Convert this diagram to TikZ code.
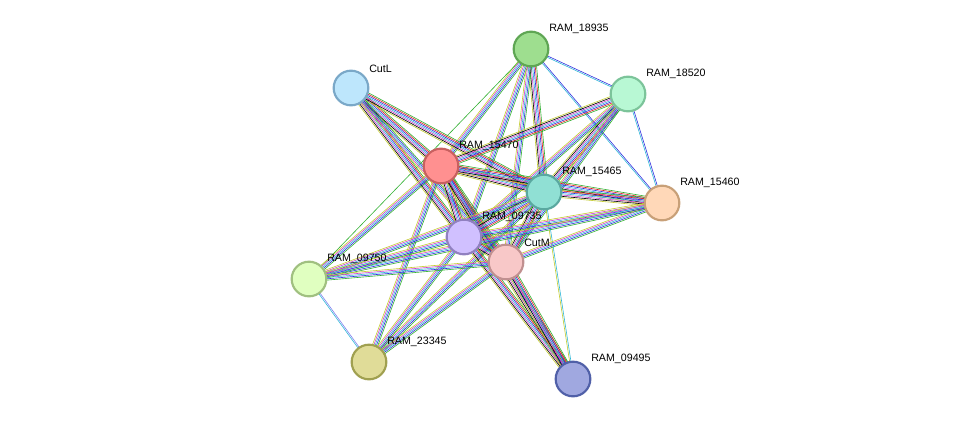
\documentclass[tikz,border=0pt]{standalone}
\usepackage{fontspec}
\setmainfont{Liberation Sans}
\usetikzlibrary{calc,backgrounds}
\definecolor{tm}{HTML}{C4CC30}
\definecolor{ex}{HTML}{D040D0}
\definecolor{db}{HTML}{30B8D8}
\definecolor{nb}{HTML}{30B030}
\definecolor{fu}{HTML}{E02020}
\definecolor{co}{HTML}{3030E0}
\definecolor{lb}{HTML}{8080F0}
\newcommand\edge[3]{%
  \edef\edgelist{#3}%
  \foreach \c [count=\n] in \edgelist {\xdef\NN{\n}}%
  \foreach \c [count=\i] in \edgelist {%
    \pgfmathsetmacro\o{(\i-0.5*(\NN+1))*1.0}%
    \draw[draw=\c,line width=0.45pt] ($(#1)!\o pt!90:(#2)$) -- ($(#2)!\o pt!-90:(#1)$);}}
\tikzset{prot/.style={circle,minimum size=26pt,inner sep=0pt,line width=1.6pt},
  lab/.style={font=\fontsize{8}{9}\selectfont,anchor=south west,inner sep=0pt}}
\begin{document}
\begin{tikzpicture}[x=0.75pt,y=-0.75pt]
\useasboundingbox (0,0) rectangle (975,425);
\node[prot,fill={rgb,255:red,158;green,222;blue,143},draw={rgb,255:red,95;green,166;blue,84}] (a) at (531,49) {};
\node[prot,fill={rgb,255:red,189;green,230;blue,252},draw={rgb,255:red,122;green,168;blue,200}] (b) at (351,88) {};
\node[prot,fill={rgb,255:red,184;green,248;blue,212},draw={rgb,255:red,124;green,196;blue,154}] (c) at (628,94) {};
\node[prot,fill={rgb,255:red,255;green,144;blue,144},draw={rgb,255:red,200;green,96;blue,96}] (d) at (441,166) {};
\node[prot,fill={rgb,255:red,144;green,224;blue,212},draw={rgb,255:red,90;green,168;blue,160}] (e) at (544,192) {};
\node[prot,fill={rgb,255:red,255;green,216;blue,184},draw={rgb,255:red,200;green,160;blue,120}] (f) at (662,203) {};
\node[prot,fill={rgb,255:red,208;green,192;blue,255},draw={rgb,255:red,144;green,128;blue,192}] (g) at (464,237) {};
\node[prot,fill={rgb,255:red,248;green,200;blue,200},draw={rgb,255:red,192;green,144;blue,144}] (h) at (506,262) {};
\node[prot,fill={rgb,255:red,224;green,255;blue,192},draw={rgb,255:red,160;green,192;blue,128}] (i) at (309,279) {};
\node[prot,fill={rgb,255:red,224;green,220;blue,152},draw={rgb,255:red,160;green,160;blue,80}] (j) at (369,362) {};
\node[prot,fill={rgb,255:red,160;green,168;blue,224},draw={rgb,255:red,80;green,96;blue,168}] (k) at (573,379) {};
\foreach \n/\x/\y/\t in {a/531/49/RAM\_18935,b/351/88/CutL,c/628/94/RAM\_18520,d/441/166/RAM\_15470,e/544/192/RAM\_15465,f/662/203/RAM\_15460,g/464/237/RAM\_09735,h/506/262/CutM,i/309/279/RAM\_09750,j/369/362/RAM\_23345,k/573/379/RAM\_09495}
  \node[lab] (l\n) at (\x+18,\y-15) {\t};
\begin{scope}[on background layer]
\fill[white] (0,0) rectangle (975,425);
\def\F{tm,black,ex,db,co,fu,nb}
\def\M{tm,ex,db,co,nb}
\edge{a}{c}{db,co}
\edge{a}{f}{db,co}
\edge{a}{d}{\M}
\edge{a}{e}{\F}
\edge{a}{g}{\M}
\edge{a}{h}{\M}
\edge{a}{i}{nb}
\edge{b}{d}{\F}
\edge{b}{e}{\F}
\edge{b}{g}{\F}
\edge{b}{h}{\M}
\edge{c}{f}{db,co}
\edge{c}{d}{\F}
\edge{c}{e}{\F}
\edge{c}{g}{\M}
\edge{c}{h}{\M}
\edge{d}{e}{\F}
\edge{d}{f}{\F}
\edge{d}{g}{\F}
\edge{d}{h}{\F}
\edge{d}{i}{\M}
\edge{d}{j}{\M}
\edge{d}{k}{\F}
\edge{e}{f}{\F}
\edge{e}{g}{\F}
\edge{e}{h}{\F}
\edge{e}{i}{\M}
\edge{e}{j}{\M}
\edge{e}{k}{tm,db}
\edge{f}{g}{\M}
\edge{f}{h}{\M}
\edge{f}{i}{\M}
\edge{g}{h}{\F}
\edge{g}{i}{\M}
\edge{g}{j}{\M}
\edge{g}{k}{\F}
\edge{h}{i}{\M}
\edge{h}{j}{\M}
\edge{h}{k}{\F}
\edge{i}{j}{db,lb}
\end{scope}
\end{tikzpicture}
\end{document}
